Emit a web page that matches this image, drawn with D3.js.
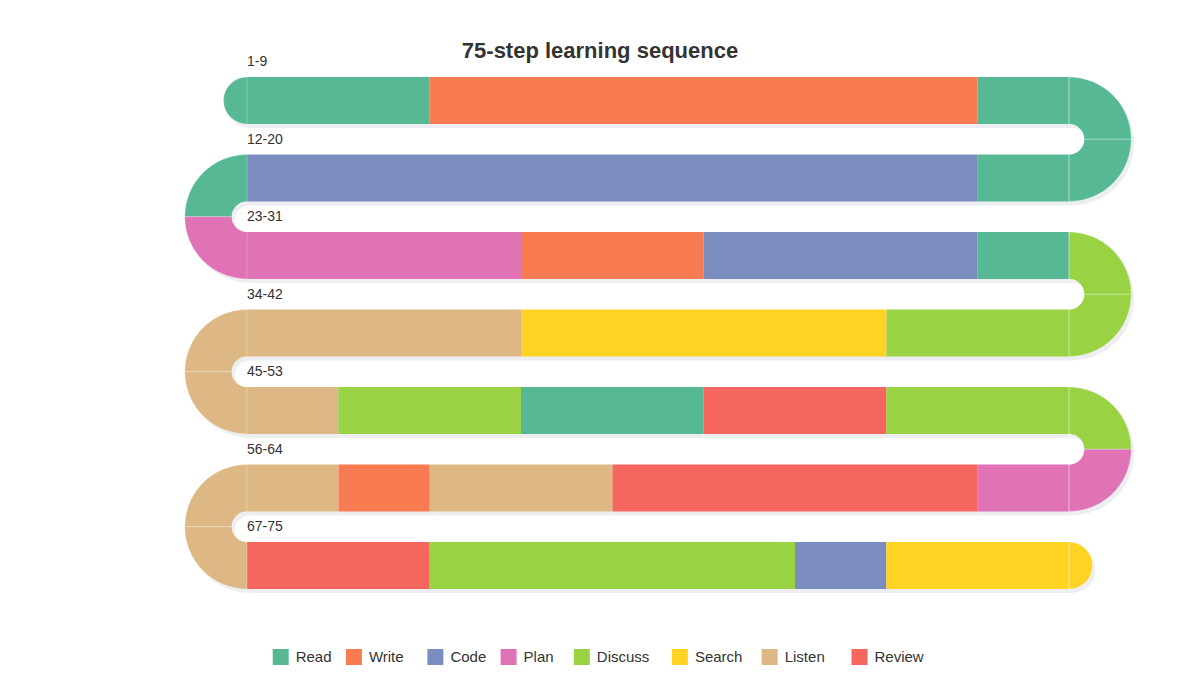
<!DOCTYPE html>
<html><head><meta charset="utf-8">
<script src="https://cdn.jsdelivr.net/npm/d3@7"></script>
<style>body{margin:0;background:#fff;font-family:"Helvetica Neue",Arial,"Liberation Sans",sans-serif}</style>
</head><body><svg id="c" width="1200" height="700"></svg>
<script>
// categories and their colours
const categories = ["Read","Write","Code","Plan","Discuss","Search","Listen","Review"];
const colors = ["#57b994","#f97b52","#7b8dbf","#e072b6","#99d344","#ffd324","#ddb884","#f5675e"];
// one category per step, steps 1..75
const steps = [
  "Read","Read","Write","Write","Write","Write","Write","Write","Read",        // 1-9
  "Read","Read",                                                              // 10-11 turn
  "Read","Code","Code","Code","Code","Code","Code","Code","Code",             // 12-20
  "Read","Plan",                                                              // 21-22 turn
  "Plan","Plan","Plan","Write","Write","Code","Code","Code","Read",           // 23-31
  "Discuss","Discuss",                                                        // 32-33 turn
  "Discuss","Discuss","Search","Search","Search","Search","Listen","Listen","Listen", // 34-42
  "Listen","Listen",                                                          // 43-44 turn
  "Listen","Discuss","Discuss","Read","Read","Review","Review","Discuss","Discuss",   // 45-53
  "Discuss","Plan",                                                           // 54-55 turn
  "Plan","Review","Review","Review","Review","Listen","Listen","Write","Listen",      // 56-64
  "Listen","Listen",                                                          // 65-66 turn
  "Review","Review","Discuss","Discuss","Discuss","Discuss","Code","Search","Search"  // 67-75
];
const rowLabels = ["1-9","12-20","23-31","34-42","45-53","56-64","67-75"];

const color = d3.scaleOrdinal().domain(categories).range(colors);
const svg = d3.select("#c");
const x = d3.scaleLinear().domain([0, 9]).range([247, 1069]);
const y = d3.scaleLinear().domain([0, 7]).range([77, 77 + 7 * 77.5]);
const bandH = 47, gap = 77.5 - bandH;
const rInner = gap / 2, rOuter = gap / 2 + bandH;
const arc = d3.arc();

// build shapes
const shapes = [];
rowLabels.forEach((lab, i) => {
  const start = i * 11;
  const ltr = i % 2 === 0;
  const top = y(i);
  // merge consecutive same categories into runs
  let k = 0;
  while (k < 9) {
    let j = k;
    while (j + 1 < 9 && steps[start + j + 1] === steps[start + k]) j++;
    const a = ltr ? k : 9 - (j + 1), b = ltr ? j + 1 : 9 - k;
    shapes.push({type: "rect", x: x(a), y: top, w: x(b) - x(a), h: bandH, cat: steps[start + k]});
    k = j + 1;
  }
  if (i < 6) {
    const cx = ltr ? x(9) : x(0), cy = top + bandH + rInner;
    const q1 = ltr ? [0, Math.PI / 2] : [-Math.PI / 2, 0];
    const q2 = ltr ? [Math.PI / 2, Math.PI] : [Math.PI, 1.5 * Math.PI];
    [q1, q2].forEach((q, n) => shapes.push({type: "arc", cx, cy,
      d: arc({innerRadius: rInner, outerRadius: rOuter, startAngle: q[0], endAngle: q[1]}),
      cat: steps[start + 9 + n]}));
  }
});
// start and end caps
shapes.push({type: "arc", cx: x(0), cy: y(0) + bandH / 2,
  d: arc({innerRadius: 0, outerRadius: bandH / 2, startAngle: Math.PI, endAngle: 2 * Math.PI}), cat: steps[0]});
shapes.push({type: "arc", cx: x(9), cy: y(6) + bandH / 2,
  d: arc({innerRadius: 0, outerRadius: bandH / 2, startAngle: 0, endAngle: Math.PI}), cat: steps[74]});

function draw(g, fillFn) {
  g.selectAll("rect").data(shapes.filter(s => s.type === "rect")).join("rect")
    .attr("x", d => d.x).attr("y", d => d.y).attr("width", d => d.w).attr("height", d => d.h)
    .attr("fill", fillFn);
  g.selectAll("path").data(shapes.filter(s => s.type === "arc")).join("path")
    .attr("transform", d => `translate(${d.cx},${d.cy})`).attr("d", d => d.d)
    .attr("fill", fillFn).attr("stroke", "rgba(255,255,255,0.35)").attr("stroke-width", 0.7);
}
draw(svg.append("g").attr("transform", "translate(3,4)"), () => "#eceef2");
draw(svg.append("g"), d => color(d.cat));

// seams at row ends
svg.append("g").selectAll("line").data(d3.range(7)).join("line")
  .attr("x1", x(9)).attr("x2", x(9)).attr("y1", d => y(d)).attr("y2", d => y(d) + bandH)
  .attr("stroke", "rgba(255,255,255,0.35)");

svg.append("g").selectAll("text").data(rowLabels).join("text")
  .attr("x", x(0)).attr("y", (d, i) => y(i) - 11)
  .attr("font-size", 14).attr("fill", "#333").text(d => d);

svg.append("text").attr("x", 600).attr("y", 58).attr("text-anchor", "middle")
  .attr("font-size", 22).attr("font-weight", "bold").attr("fill", "#333")
  .text("75-step learning sequence");

// legend
const legend = svg.append("g");
const widths = categories.map(c => 26 + c.length * 8.3 + 14);
const total = d3.sum(widths) - 14;
let lx = 600 - total / 2;
categories.forEach((c, i) => {
  const g = legend.append("g").attr("transform", `translate(${lx},649)`);
  g.append("rect").attr("width", 16).attr("height", 16).attr("fill", color(c));
  g.append("text").attr("x", 23).attr("y", 13).attr("font-size", 15).attr("fill", "#333").text(c);
  lx += widths[i];
});
</script></body></html>
